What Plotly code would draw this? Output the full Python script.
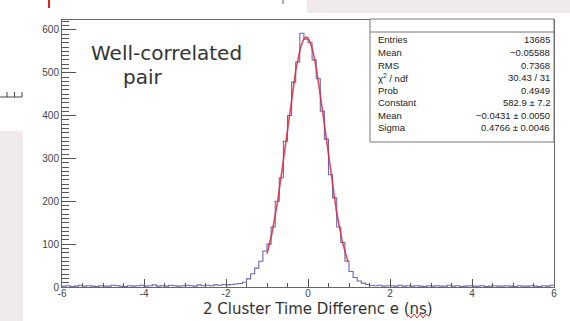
import numpy as np
import plotly.graph_objects as go

# ---------------- data ----------------
x_min, x_max, n_bins = -6.0, 6.0, 120

counts_left_tail = [2, 3, 1, 2, 4, 2, 3, 2, 1, 3,
                    2, 2, 4, 3, 2, 1, 3, 2, 3, 4,
                    2, 3, 5, 2, 3, 2, 4, 3, 2, 3,
                    4, 3, 2, 5, 3, 4, 3, 5, 4, 6]
counts_rise = [5, 6, 7, 8, 11, 19, 31, 44, 60, 84]
counts_core = [100, 140, 200, 255, 340, 400, 478, 525, 592, 578,
               570, 530, 486, 410, 345, 262, 208, 140, 104, 60,
               36, 22, 14, 9, 6, 4]
counts_right_tail = [3, 4, 2, 3, 3, 2, 4, 2, 3, 2,
                     3, 2, 1, 3, 2, 3, 2, 2, 4, 2,
                     3, 1, 2, 3, 2, 2, 3, 1, 2, 3,
                     2, 2, 3, 2, 1, 3, 2, 2, 3, 2,
                     1, 3, 2, 4]
counts = counts_left_tail + counts_rise + counts_core + counts_right_tail

fit_constant, fit_mean, fit_sigma = 582.9, -0.0431, 0.4766
fit_lo, fit_hi = -1.0, 0.98

stats_labels = ["Entries", "Mean", "RMS", "χ<sup>2</sup> / ndf", "Prob",
                "Constant", "Mean", "Sigma"]
stats_values = ["13685", "−0.05588", "0.7368", "30.43 / 31", "0.4949",
                "582.9 ± 7.2", "−0.0431 ± 0.0050", "0.4766 ± 0.0046"]

x_tick_vals = [-6, -4, -2, 0, 2, 4, 6]
x_tick_text = ["-6", "-4", "-2", "0", "2", "4", "6"]
y_tick_vals = [0, 100, 200, 300, 400, 500, 600]

x_title = "2 Cluster Time Differenc e (ns)"
note_line1 = "Well-correlated"
note_line2 = "pair"

# ---------------- geometry helpers ----------------
W, H = 570, 321
ML, MR, MT, MB = 62, 16, 20, 34
PW, PH = W - ML - MR, H - MT - MB


def px(x):
    return (x - ML) / PW


def py(y):
    return (H - MB - y) / PH


edges = np.linspace(x_min, x_max, n_bins + 1)
step_y = counts + [counts[-1]]

fx = np.linspace(fit_lo, fit_hi, 300)
fy = fit_constant * np.exp(-0.5 * ((fx - fit_mean) / fit_sigma) ** 2)

fig = go.Figure()
fig.add_trace(go.Scatter(x=edges, y=step_y, mode="lines", line_shape="hv",
                         line=dict(color="#6a6ab2", width=1.1),
                         hoverinfo="skip", showlegend=False))
fig.add_trace(go.Scatter(x=fx, y=fy, mode="lines",
                         line=dict(color="rgba(225,40,60,0.85)", width=1.6),
                         hoverinfo="skip", showlegend=False))

shapes = []
annotations = []

stats_font = dict(family="Liberation Sans Narrow, Liberation Sans", size=9.5, color="#222")

# stats box
bx0, bx1, by0, by1 = 370, 554, 19, 142
shapes.append(dict(type="rect", xref="paper", yref="paper",
                   x0=px(bx0), x1=px(bx1), y0=py(by1), y1=py(by0),
                   fillcolor="white", line=dict(color="#777", width=1), layer="above"))
shapes.append(dict(type="line", xref="paper", yref="paper",
                   x0=px(bx0), x1=px(bx1), y0=py(32), y1=py(32),
                   line=dict(color="#777", width=1), layer="above"))
row_y0, row_dy = 40, 12.5
for i, (lab, val) in enumerate(zip(stats_labels, stats_values)):
    yy = row_y0 + i * row_dy
    annotations.append(dict(text=lab, xref="paper", yref="paper", x=px(376), y=py(yy),
                            xanchor="left", yanchor="middle", showarrow=False,
                            font=stats_font))
    annotations.append(dict(text=val, xref="paper", yref="paper", x=px(552), y=py(yy),
                            xanchor="right", yanchor="middle", showarrow=False,
                            font=stats_font))

# note text
annotations.append(dict(text=note_line1, xref="paper", yref="paper", x=px(89), y=py(53),
                        xanchor="left", yanchor="middle", showarrow=False,
                        font=dict(family="DejaVu Sans", size=20, color="#333")))
annotations.append(dict(text=note_line2, xref="paper", yref="paper", x=px(121), y=py(77),
                        xanchor="left", yanchor="middle", showarrow=False,
                        font=dict(family="DejaVu Sans", size=20, color="#333")))

# x title
annotations.append(dict(text=x_title, xref="paper", yref="paper", x=px(318), y=py(309),
                        xanchor="center", yanchor="middle", showarrow=False,
                        font=dict(family="DejaVu Sans", size=15, color="#333")))

# wavy underline under "ns"
wx = [408, 411, 414, 417, 420, 423, 426, 428]
wy = [315, 318, 314, 318, 314, 318, 314, 316]
path = "M " + " L ".join(f"{px(a):.5f},{py(b):.5f}" for a, b in zip(wx, wy))
shapes.append(dict(type="path", xref="paper", yref="paper", path=path,
                   line=dict(color="#d03030", width=1)))

# page artefacts: grey panels, red cursor mark, clipped glyph
shapes.append(dict(type="rect", xref="paper", yref="paper", x0=px(307), x1=px(570),
                   y0=py(13), y1=py(0), fillcolor="#efe9e9", line=dict(width=0)))
shapes.append(dict(type="rect", xref="paper", yref="paper", x0=px(0), x1=px(23),
                   y0=py(321), y1=py(131), fillcolor="#efe9e9", line=dict(width=0)))
shapes.append(dict(type="line", xref="paper", yref="paper", x0=px(49), x1=px(49),
                   y0=py(0), y1=py(8), line=dict(color="#e02020", width=2)))
shapes.append(dict(type="line", xref="paper", yref="paper", x0=px(283), x1=px(283),
                   y0=py(0), y1=py(4), line=dict(color="#666", width=1)))
glyph = (f"M {px(0):.5f},{py(97):.5f} L {px(22):.5f},{py(97):.5f} "
         f"M {px(7):.5f},{py(97):.5f} L {px(7):.5f},{py(92):.5f} "
         f"M {px(14.5):.5f},{py(97):.5f} L {px(14.5):.5f},{py(92):.5f} "
         f"M {px(22):.5f},{py(97):.5f} L {px(22):.5f},{py(92):.5f}")
shapes.append(dict(type="path", xref="paper", yref="paper", path=glyph,
                   line=dict(color="#444", width=1)))

axis_common = dict(showgrid=False, zeroline=False, showline=True, mirror=True,
                   linecolor="#666", linewidth=1, ticks="inside", tickcolor="#555",
                   tickwidth=1,
                   tickfont=dict(family="Liberation Sans", size=10, color="#444"))

fig.update_layout(
    width=W, height=H,
    margin=dict(l=ML, r=MR, t=MT, b=MB, pad=0),
    paper_bgcolor="white", plot_bgcolor="white",
    xaxis=dict(range=[x_min, x_max], tickmode="array", tickvals=x_tick_vals,
               ticktext=x_tick_text, ticklen=8, ticklabelstandoff=-3,
               minor=dict(tickvals=list(np.arange(-6, 6.01, 0.5)), ticks="inside",
                          ticklen=4, tickcolor="#555"),
               **axis_common),
    yaxis=dict(range=[0, 623], tickmode="array", tickvals=y_tick_vals, ticklen=14,
               minor=dict(tickvals=list(range(0, 621, 10)), ticks="inside",
                          ticklen=7, tickcolor="#555"),
               **axis_common),
    shapes=shapes,
    annotations=annotations,
    showlegend=False,
)

fig.write_html("out.html")
